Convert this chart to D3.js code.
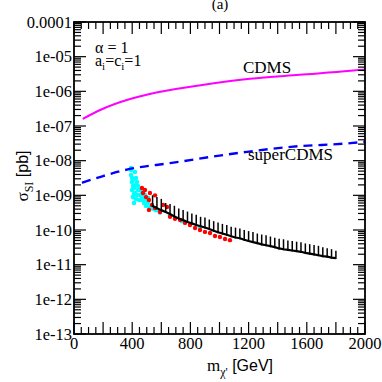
<!DOCTYPE html>
<html>
<head>
<meta charset="utf-8">
<script src="https://cdn.jsdelivr.net/npm/d3@7"></script>
<style>
  body { margin: 0; background: #fff; }
  svg { display: block; }
  text { font-family: "Liberation Serif", "Times New Roman", serif; fill: #000; }
</style>
</head>
<body>
<script>
// axis ticks
var massTicks = [0, 400, 800, 1200, 1600, 2000];
var massTickLabels = ['0', '400', '800', '1200', '1600', '2000'];
var sigmaTicks = [1e-4, 1e-5, 1e-6, 1e-7, 1e-8, 1e-9, 1e-10, 1e-11, 1e-12, 1e-13];
var sigmaTickLabels = ['0.0001', '1e-05', '1e-06', '1e-07', '1e-08', '1e-09', '1e-10', '1e-11', '1e-12', '1e-13'];

// CDMS limit (magenta)
var cdmsMass  = [60, 180, 385, 520, 870, 1210, 1550, 1900, 2000];
var cdmsSigma = [1.6e-7, 2.9e-7, 6.0e-7, 8.4e-7, 1.5e-6, 2.3e-6, 3.0e-6, 3.9e-6, 4.3e-6];

// superCDMS projection (blue dashed)
var superMass  = [55, 200, 370, 660, 1190, 1490, 1900, 2000];
var superSigma = [2.3e-9, 3.6e-9, 5.6e-9, 8.5e-9, 1.8e-8, 2.5e-8, 3.2e-8, 3.5e-8];

// scan points
var cyanMass  = [392, 392, 399, 399, 405, 412, 419, 426, 433, 447, 454, 467, 481, 495, 509, 522, 543, 564, 591, 660, 742, 866, 405, 412, 419, 440, 460, 433, 474,
                 392, 399, 405, 412, 426, 426, 440, 454, 467, 474, 488, 495, 509];
var cyanSigma = [6.15e-9, 3.87e-9, 2.43e-9, 1.43e-9, 8.9e-10, 6.0e-10, 4.7e-9, 2.0e-9, 1.02e-9, 7.3e-10, 1.43e-9, 8.9e-10, 6.0e-10, 4.9e-10, 6.0e-10, 4.5e-10, 4.1e-10, 3.7e-10, 3.2e-10, 2.6e-10, 1.8e-10, 1.2e-10, 2.77e-9, 1.63e-9, 1.17e-9, 1.43e-9, 7.3e-10, 2.43e-9, 1.43e-9,
                 5.4e-9, 3.16e-9, 1.86e-9, 1.09e-9, 3.16e-9, 7.85e-10, 1.86e-9, 1.02e-9, 1.25e-9, 7.3e-10, 1.02e-9, 6.9e-10, 8.4e-10];

var redMass  = [467, 474, 488, 495, 515, 522, 515, 536, 557, 557, 591, 612, 639, 660, 694, 729, 763, 797, 832, 866, 900, 935, 969, 1003, 1038, 1072];
var redSigma = [1.63e-9, 1.17e-9, 1.43e-9, 8.9e-10, 7.3e-10, 1.17e-9, 3.8e-10, 5.3e-10, 1.0e-9, 4.3e-10, 3.3e-10, 5.3e-10, 4.6e-10, 2.4e-10, 2.1e-10, 1.95e-10, 1.6e-10, 1.4e-10, 1.14e-10, 1.0e-10, 8.8e-11, 8.2e-11, 6.7e-11, 6.3e-11, 5.5e-11, 5.1e-11];

var blackMass = [540, 570, 600, 630, 660, 690, 720, 750, 780, 810, 840, 870, 900, 930, 960, 990, 1020, 1050, 1080, 1110, 1140, 1170, 1200, 1230, 1260, 1290, 1320, 1350, 1380, 1410, 1440, 1470, 1500, 1530, 1560, 1590, 1620, 1650, 1680, 1710, 1740, 1770, 1800];
var blackLo = [4.6e-10, 4.0e-10, 3.5e-10, 3.1e-10, 2.7e-10, 2.3e-10, 2.0e-10, 1.8e-10, 1.6e-10, 1.45e-10, 1.3e-10, 1.2e-10, 1.1e-10, 1.0e-10, 8.9e-11, 8.1e-11, 7.4e-11, 6.8e-11, 6.2e-11, 5.7e-11, 5.4e-11, 4.9e-11, 4.5e-11, 4.2e-11, 3.9e-11, 3.6e-11, 3.4e-11, 3.2e-11, 3.0e-11, 2.75e-11, 2.6e-11, 2.5e-11, 2.4e-11, 2.3e-11, 2.2e-11, 2.05e-11, 1.95e-11, 1.85e-11, 1.75e-11, 1.65e-11, 1.6e-11, 1.5e-11, 1.45e-11];
var blackHi = [1.0e-9, 8.9e-10, 7.9e-10, 6.0e-10, 5.6e-10, 5.0e-10, 4.2e-10, 3.8e-10, 3.4e-10, 3.0e-10, 2.75e-10, 2.4e-10, 2.3e-10, 2.0e-10, 1.8e-10, 1.65e-10, 1.5e-10, 1.4e-10, 1.25e-10, 1.17e-10, 1.1e-10, 1.0e-10, 9.3e-11, 8.7e-11, 7.9e-11, 7.4e-11, 7.1e-11, 6.5e-11, 6.0e-11, 5.6e-11, 5.4e-11, 5.0e-11, 4.8e-11, 4.6e-11, 4.4e-11, 4.1e-11, 3.9e-11, 3.7e-11, 3.5e-11, 3.2e-11, 3.0e-11, 2.8e-11, 2.5e-11];

var width = 382, height = 382;
var plotLeft = 74, plotRight = 365, plotTop = 22, plotBottom = 334;

var svg = d3.select('body').append('svg').attr('width', width).attr('height', height);

var x = d3.scaleLinear().domain([0, 2000]).range([plotLeft, plotRight]);
var y = d3.scaleLog().domain([1e-13, 1e-4]).range([plotBottom, plotTop]);

var plot = svg.append('g');

// scan points: cyan, red, black
plot.selectAll('circle.cyan')
    .data(cyanMass.map(function (m, i) { return [m, cyanSigma[i]]; }))
    .enter().append('circle')
    .attr('class', 'cyan')
    .attr('cx', function (d) { return x(d[0]); })
    .attr('cy', function (d) { return y(d[1]); })
    .attr('r', 2.3)
    .attr('fill', '#00ffff');

plot.selectAll('circle.red')
    .data(redMass.map(function (m, i) { return [m, redSigma[i]]; }))
    .enter().append('circle')
    .attr('class', 'red')
    .attr('cx', function (d) { return x(d[0]); })
    .attr('cy', function (d) { return y(d[1]); })
    .attr('r', 2.2)
    .attr('fill', '#ff0000');

var blackData = blackMass.map(function (m, i) { return [m, blackLo[i], blackHi[i]]; });

plot.append('path')
    .datum(blackData)
    .attr('fill', 'none')
    .attr('stroke', '#000')
    .attr('stroke-width', 2.2)
    .attr('d', d3.line().x(function (d) { return x(d[0]); }).y(function (d) { return y(d[1]) - 1; }));

plot.selectAll('line.spike')
    .data(blackData)
    .enter().append('line')
    .attr('class', 'spike')
    .attr('x1', function (d) { return x(d[0]); })
    .attr('x2', function (d) { return x(d[0]); })
    .attr('y1', function (d) { return y(d[1]); })
    .attr('y2', function (d) { return y(d[2]); })
    .attr('stroke', '#000')
    .attr('stroke-width', 1.5);

// limit curves
var curve = d3.line()
    .x(function (d) { return x(d[0]); })
    .y(function (d) { return y(d[1]); })
    .curve(d3.curveMonotoneX);

plot.append('path')
    .datum(cdmsMass.map(function (m, i) { return [m, cdmsSigma[i]]; }))
    .attr('fill', 'none')
    .attr('stroke', '#ff00ff')
    .attr('stroke-width', 2)
    .attr('d', curve);

plot.append('path')
    .datum(superMass.map(function (m, i) { return [m, superSigma[i]]; }))
    .attr('fill', 'none')
    .attr('stroke', '#0000ff')
    .attr('stroke-width', 2.4)
    .attr('stroke-dasharray', '9,6')
    .attr('d', curve);

// frame and ticks
var axes = svg.append('g').attr('stroke', '#000');

var minorSigma = [];
sigmaTicks.forEach(function (t) {
    for (var k = 2; k <= 9; k++) {
        if (t * k < 1e-4) minorSigma.push(t * k);
    }
});

function yTick(v, len) {
    axes.append('line').attr('x1', plotLeft).attr('x2', plotLeft + len).attr('y1', y(v)).attr('y2', y(v)).attr('stroke-width', 1.2);
    axes.append('line').attr('x1', plotRight).attr('x2', plotRight - len).attr('y1', y(v)).attr('y2', y(v)).attr('stroke-width', 1.2);
}
sigmaTicks.forEach(function (t) { yTick(t, 12); });
minorSigma.forEach(function (t) { yTick(t, 7); });

function xTick(v, len) {
    axes.append('line').attr('x1', x(v)).attr('x2', x(v)).attr('y1', plotBottom).attr('y2', plotBottom - len).attr('stroke-width', 1.2);
    axes.append('line').attr('x1', x(v)).attr('x2', x(v)).attr('y1', plotTop).attr('y2', plotTop + len).attr('stroke-width', 1.2);
}
d3.range(0, 2001, 50).forEach(function (m) {
    xTick(m, m % 200 === 0 ? 12 : 7);
});

axes.append('rect')
    .attr('x', plotLeft).attr('y', plotTop)
    .attr('width', plotRight - plotLeft).attr('height', plotBottom - plotTop)
    .attr('fill', 'none')
    .attr('stroke-width', 1.8);

// tick labels
svg.selectAll('text.ylab')
    .data(sigmaTicks)
    .enter().append('text')
    .attr('class', 'ylab')
    .attr('x', plotLeft - 2)
    .attr('y', function (d) { return y(d) + 5.5; })
    .attr('text-anchor', 'end')
    .style('font-size', '16.5px')
    .text(function (d, i) { return sigmaTickLabels[i]; });

svg.selectAll('text.xlab')
    .data(massTicks)
    .enter().append('text')
    .attr('class', 'xlab')
    .attr('x', function (d) { return x(d); })
    .attr('y', 349)
    .attr('text-anchor', 'middle')
    .style('font-size', '16.5px')
    .text(function (d, i) { return massTickLabels[i]; });

// axis titles
var xt = svg.append('text').attr('x', 240).attr('y', 371).attr('text-anchor', 'middle').style('font-size', '17px');
xt.append('tspan').text('m');
xt.append('tspan').attr('dy', 5).style('font-size', '12px').text('χ\'');
xt.append('tspan').attr('dy', -5).style('font-family', '"Liberation Sans", Arial, sans-serif').style('font-size', '16px').text(' [GeV]');

var yt = svg.append('text').attr('transform', 'translate(28,176) rotate(-90)').attr('text-anchor', 'middle').style('font-size', '17px');
yt.append('tspan').text('σ');
yt.append('tspan').attr('dy', 5).style('font-size', '12px').text('SI');
yt.append('tspan').attr('dy', -5).style('font-family', '"Liberation Sans", Arial, sans-serif').style('font-size', '16px').text(' [pb]');

// title and annotations
svg.append('text').attr('x', 220).attr('y', 9).attr('text-anchor', 'middle').style('font-size', '15px').text('(a)');

svg.append('text').attr('x', 95).attr('y', 53).style('font-size', '16px').text('α = 1');
var ac = svg.append('text').attr('x', 95).attr('y', 66).style('font-size', '16px');
ac.append('tspan').text('a');
ac.append('tspan').attr('dy', 4).style('font-size', '11px').text('i');
ac.append('tspan').attr('dy', -4).text('=c');
ac.append('tspan').attr('dy', 4).style('font-size', '11px').text('i');
ac.append('tspan').attr('dy', -4).text('=1');

svg.append('text').attr('x', 243).attr('y', 73).style('font-size', '17px').text('CDMS');
svg.append('text').attr('x', 248).attr('y', 160).style('font-size', '17px').text('superCDMS');
</script>
</body>
</html>
